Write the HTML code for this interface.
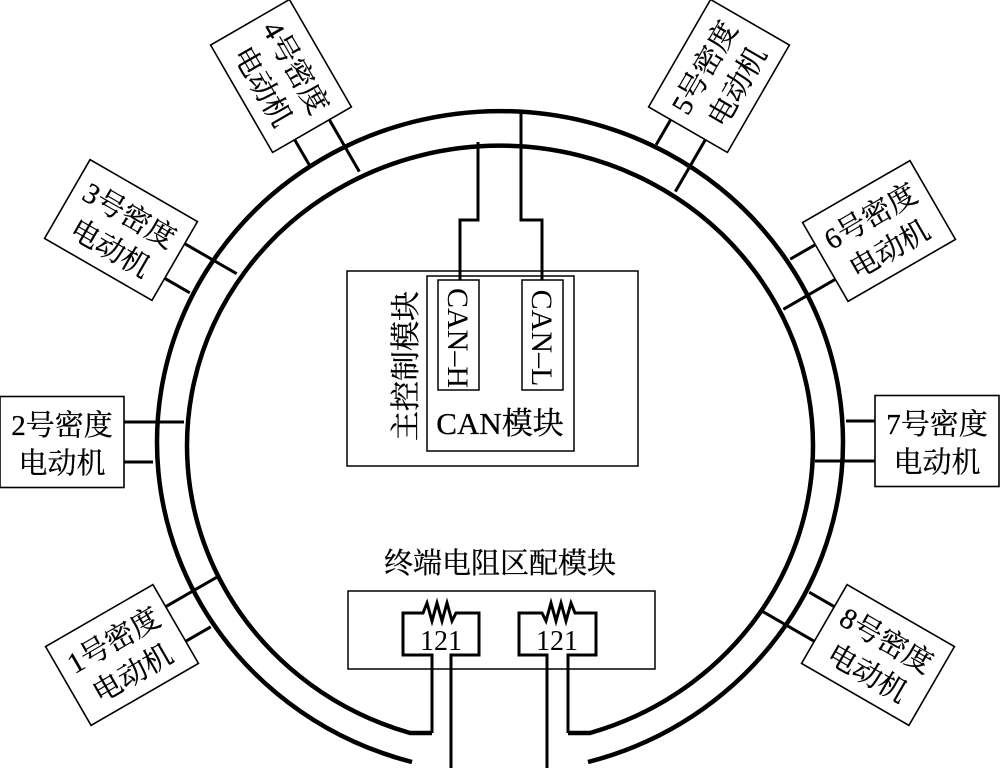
<!DOCTYPE html>
<html><head><meta charset="utf-8"><style>
html,body{margin:0;padding:0;background:#fff;}
svg{display:block;}
text{font-family:"Liberation Serif","Noto Serif CJK SC","Noto Sans CJK SC",serif;fill:#000;}
.m{font-size:29px;stroke:#000;stroke-width:0.3px;}
</style></head><body>
<svg width="1000" height="768" viewBox="0 0 1000 768" xmlns="http://www.w3.org/2000/svg">
<defs>
<g id="boxL">
<rect x="-62" y="-45.5" width="124" height="91" fill="#fff" stroke="#000" stroke-width="1.6"/>
<line x1="62" y1="-20" x2="122" y2="-20" stroke="#000" stroke-width="3"/>
<line x1="62" y1="20" x2="91" y2="20" stroke="#000" stroke-width="3"/>
</g>
<g id="boxR">
<rect x="-62" y="-45.5" width="124" height="91" fill="#fff" stroke="#000" stroke-width="1.6"/>
<line x1="-62" y1="20" x2="-122" y2="20" stroke="#000" stroke-width="3"/>
<line x1="-62" y1="-20" x2="-91" y2="-20" stroke="#000" stroke-width="3"/>
</g>
</defs>

<path d="M412,762 A343,331 0 1 1 588,762" fill="none" stroke="#000" stroke-width="4.5"/>
<path d="M432,733 L410,733 A313,300 0 1 1 590,733 L568,733" fill="none" stroke="#000" stroke-width="4.5"/>

<g transform="translate(62,442)"><use href="#boxL"/>
<text class="m" x="0" y="-7" text-anchor="middle">2号密度</text>
<text class="m" x="0" y="31" text-anchor="middle">电动机</text></g>

<g transform="translate(122,655) rotate(-30)"><use href="#boxL"/>
<text class="m" x="0" y="-7" text-anchor="middle">1号密度</text>
<text class="m" x="0" y="31" text-anchor="middle">电动机</text></g>

<g transform="translate(121,230) rotate(30)"><use href="#boxL"/>
<text class="m" x="0" y="-7" text-anchor="middle">3号密度</text>
<text class="m" x="0" y="31" text-anchor="middle">电动机</text></g>

<g transform="translate(281,76) rotate(60)"><use href="#boxL"/>
<text class="m" x="0" y="-7" text-anchor="middle">4号密度</text>
<text class="m" x="0" y="31" text-anchor="middle">电动机</text></g>

<g transform="translate(719,76) rotate(-60)"><use href="#boxR"/>
<text class="m" x="0" y="-7" text-anchor="middle">5号密度</text>
<text class="m" x="0" y="31" text-anchor="middle">电动机</text></g>

<g transform="translate(879,231) rotate(-30)"><use href="#boxR"/>
<text class="m" x="0" y="-7" text-anchor="middle">6号密度</text>
<text class="m" x="0" y="31" text-anchor="middle">电动机</text></g>

<g transform="translate(937,441)"><use href="#boxR"/>
<text class="m" x="0" y="-7" text-anchor="middle">7号密度</text>
<text class="m" x="0" y="31" text-anchor="middle">电动机</text></g>

<g transform="translate(878,655) rotate(30)"><use href="#boxR"/>
<text class="m" x="0" y="-7" text-anchor="middle">8号密度</text>
<text class="m" x="0" y="31" text-anchor="middle">电动机</text></g>

<rect x="347" y="271" width="291" height="195" fill="#fff" stroke="#000" stroke-width="1.5"/>
<rect x="427" y="276" width="147" height="175" fill="none" stroke="#000" stroke-width="1.5"/>
<rect x="438" y="280" width="41" height="110" fill="none" stroke="#000" stroke-width="1.5"/>
<rect x="522" y="280" width="41" height="110" fill="none" stroke="#000" stroke-width="1.5"/>
<text transform="translate(448,338) rotate(90)" font-size="30" text-anchor="middle">CAN–H</text>
<text transform="translate(532,338) rotate(90)" font-size="30" text-anchor="middle">CAN–L</text>
<text class="m" x="500" y="434" font-size="31" text-anchor="middle" style="font-size:31px">CAN模块</text>
<text class="m" transform="translate(416,366) rotate(-90)" text-anchor="middle" style="font-size:30px">主控制模块</text>
<path d="M460,280 L460,220 L478,220 L478,142" fill="none" stroke="#000" stroke-width="3"/>
<path d="M542,280 L542,220 L521,220 L521,112" fill="none" stroke="#000" stroke-width="3"/>

<text class="m" x="500" y="573" text-anchor="middle">终端电阻区配模块</text>
<rect x="348" y="591" width="307" height="78" fill="#fff" stroke="#000" stroke-width="1.5"/>
<path d="M432,733 L432,655 L403,655 L403,613 L423,613 L427,603 L432,621 L437,603 L442,621 L447,603 L452,621 L456,613 L479,613 L479,655 L451,655 L451,768" fill="none" stroke="#000" stroke-width="3"/>
<path d="M568,733 L568,655 L596,655 L596,613 L575,613 L571,603 L566,621 L561,603 L556,621 L551,603 L546,621 L542,613 L519,613 L519,655 L547,655 L547,768" fill="none" stroke="#000" stroke-width="3"/>
<text x="441" y="650" font-size="28" text-anchor="middle">121</text>
<text x="557" y="650" font-size="28" text-anchor="middle">121</text>
</svg>
</body></html>
